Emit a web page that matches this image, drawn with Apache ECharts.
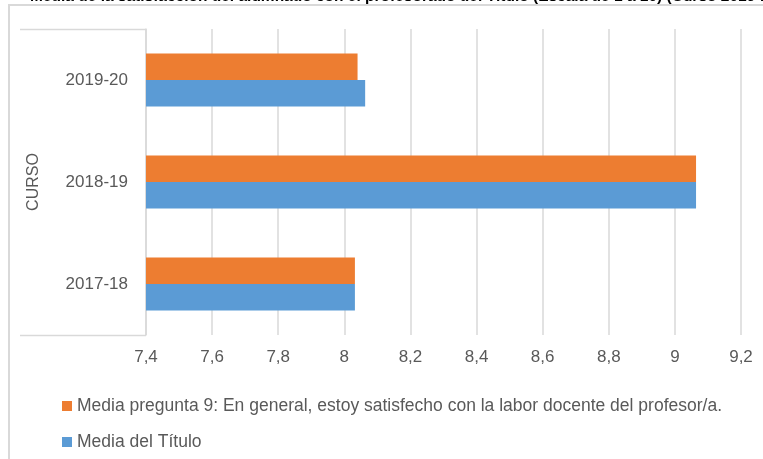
<!DOCTYPE html>
<html>
<head>
<meta charset="utf-8">
<script src="https://cdn.jsdelivr.net/npm/echarts@6/dist/echarts.min.js"></script>
<style>html,body{margin:0;padding:0;background:#fff}#c{width:763px;height:459px}</style>
</head>
<body>
<div id="c"></div>
<script>
const categories = ['2017-18', '2018-19', '2019-20'];
const seriesNames = ['Media pregunta 9: En general, estoy satisfecho con la labor docente del profesor/a.', 'Media del Título'];
const pregunta9 = [8.032, 9.064, 8.040];
const mediaTitulo = [8.032, 9.064, 8.063];
const xTicks = { min: 7.4, max: 9.2, interval: 0.2 };
const titleText = 'Media de la satisfacción del alumnado con el profesorado del Título (Escala de 1 a 10) (Curso 2019-20)';

const chart = echarts.init(document.getElementById('c'), null, { renderer: 'canvas' });
const font = '"Liberation Sans", Arial, sans-serif';
const grey = '#595959';
chart.setOption({
  animation: false,
  textStyle: { fontFamily: font },
  graphic: [
    { type: 'rect', shape: { x: 9, y: 5, width: 800, height: 500 }, style: { fill: 'none', stroke: '#d9d9d9', lineWidth: 2 }, z: -1 },
    { type: 'line', shape: { x1: 20, y1: 29.5, x2: 146, y2: 29.5 }, style: { stroke: '#d9d9d9', lineWidth: 1.5 } },
    { type: 'line', shape: { x1: 20, y1: 335.5, x2: 146, y2: 335.5 }, style: { stroke: '#d9d9d9', lineWidth: 1.5 } },
    { type: 'text', x: 30, y: -3.4, style: { text: titleText, font: 'bold 15.5px ' + font, fill: '#000', verticalAlign: 'middle' } }
  ],
  grid: { left: 146, right: 22, top: 29, bottom: 124, containLabel: false },
  legend: {
    orient: 'vertical', left: 57, top: 392, itemWidth: 10, itemHeight: 10, itemGap: 18,
    icon: 'rect', data: seriesNames,
    textStyle: { color: grey, fontSize: 17.5, fontFamily: font }
  },
  xAxis: {
    type: 'value', min: xTicks.min, max: xTicks.max, interval: xTicks.interval,
    axisLine: { show: false }, axisTick: { show: false },
    splitLine: { show: true, lineStyle: { color: '#d9d9d9', width: 1.5 } },
    axisLabel: { color: grey, fontSize: 17, margin: 14, formatter: v => String(Math.round(v * 10) / 10).replace('.', ',') }
  },
  yAxis: {
    type: 'category', data: categories,
    name: 'CURSO', nameLocation: 'middle', nameGap: 104, nameRotate: 90,
    nameTextStyle: { color: grey, fontSize: 16 },
    axisLine: { show: true, lineStyle: { color: '#d9d9d9', width: 1.5 } },
    axisTick: { show: false },
    axisLabel: { color: grey, fontSize: 17, margin: 18 }
  },
  series: [
    { name: seriesNames[0], type: 'bar', data: pregunta9, barWidth: 26.5, barGap: '0%', itemStyle: { color: '#ED7D31' } },
    { name: seriesNames[1], type: 'bar', data: mediaTitulo, barWidth: 26.5, barGap: '0%', itemStyle: { color: '#5B9BD5' } }
  ]
});
</script>
</body>
</html>
